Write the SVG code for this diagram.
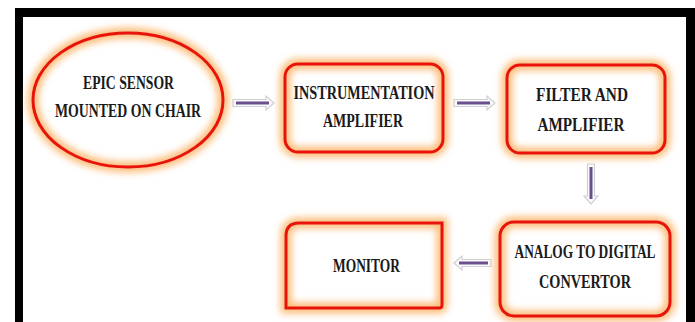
<svg xmlns="http://www.w3.org/2000/svg" width="695" height="322" viewBox="0 0 695 322">
<defs>
<filter id="glow" x="-20%" y="-20%" width="140%" height="140%"><feGaussianBlur stdDeviation="3.5"/></filter>
<style>
.bg{fill:#fff}
.glow{fill:none;stroke:#fcbd7a;stroke-width:11;filter:url(#glow)}
.edge{fill:none;stroke:#e8140c;stroke-width:3}
.t{font-family:"Liberation Serif",serif;font-weight:bold;font-size:19px;fill:#1a1a1a;text-anchor:middle}
.ah{fill:#fbfbfb;stroke:#cfcfd6;stroke-width:1.2}
.ln{stroke:#6a4e8e;stroke-width:3;fill:none}
</style>
</defs>
<rect x="0" y="0" width="695" height="322" fill="#fff"/>
<g id="frame" fill="#000">
<rect x="15" y="8" width="680" height="9"/>
<rect x="15" y="8" width="8" height="314"/>
<rect x="686" y="8" width="9" height="314"/>
</g>
<g id="connectors">
<g id="c1"><path class="ah" d="M233,99.5 H266 V96 L274,103 L266,110 V106.5 H233 Z"/><path class="ln" d="M236,103 H269"/></g>
<g id="c2"><path class="ah" d="M454,99.5 H487 V96 L495,103 L487,110 V106.5 H454 Z"/><path class="ln" d="M457,103 H490"/></g>
<g id="c3"><path class="ah" d="M587.5,164 V196 H584 L591,204 L598,196 H594.5 V164 Z"/><path class="ln" d="M591,167 V199"/></g>
<g id="c4"><path class="ah" d="M491,259.5 H462 V256 L454,263 L462,270 V266.5 H491 Z"/><path class="ln" d="M488,263 H459"/></g>
</g>
<g id="n1">
<ellipse class="bg" cx="128" cy="100" rx="95" ry="67"/>
<ellipse class="glow" cx="128" cy="100" rx="95" ry="67"/>
<ellipse class="edge" cx="128" cy="100" rx="95" ry="67"/>
<text class="t" x="128.5" y="89" textLength="91" lengthAdjust="spacingAndGlyphs">EPIC SENSOR</text>
<text class="t" x="128" y="117" textLength="146" lengthAdjust="spacingAndGlyphs">MOUNTED ON CHAIR</text>
</g>
<g id="n2">
<rect class="bg" x="285" y="64" width="158" height="88" rx="13"/>
<rect class="glow" x="285" y="64" width="158" height="88" rx="13"/>
<rect class="edge" x="285" y="64" width="158" height="88" rx="13"/>
<text class="t" x="364" y="99" textLength="141" lengthAdjust="spacingAndGlyphs">INSTRUMENTATION</text>
<text class="t" x="363" y="127" textLength="80" lengthAdjust="spacingAndGlyphs">AMPLIFIER</text>
</g>
<g id="n3">
<rect class="bg" x="507" y="65" width="158" height="88" rx="13"/>
<rect class="glow" x="507" y="65" width="158" height="88" rx="13"/>
<rect class="edge" x="507" y="65" width="158" height="88" rx="13"/>
<text class="t" x="582" y="101" textLength="92" lengthAdjust="spacingAndGlyphs">FILTER AND</text>
<text class="t" x="581" y="131" textLength="87" lengthAdjust="spacingAndGlyphs">AMPLIFIER</text>
</g>
<g id="n4">
<rect class="bg" x="500" y="222" width="170" height="94" rx="14"/>
<rect class="glow" x="500" y="222" width="170" height="94" rx="14"/>
<rect class="edge" x="500" y="222" width="170" height="94" rx="14"/>
<text class="t" x="585" y="258" textLength="141" lengthAdjust="spacingAndGlyphs">ANALOG TO DIGITAL</text>
<text class="t" x="585" y="288" textLength="92" lengthAdjust="spacingAndGlyphs">CONVERTOR</text>
</g>
<g id="n5">
<path class="bg" d="M299,223 H442 V305 Q442,308 439,308 H286 V236 Q286,223 299,223 Z"/>
<path class="glow" d="M299,223 H442 V305 Q442,308 439,308 H286 V236 Q286,223 299,223 Z"/>
<path class="edge" d="M299,223 H442 V305 Q442,308 439,308 H286 V236 Q286,223 299,223 Z"/>
<text class="t" x="366.5" y="272" textLength="67" lengthAdjust="spacingAndGlyphs">MONITOR</text>
</g>
</svg>
